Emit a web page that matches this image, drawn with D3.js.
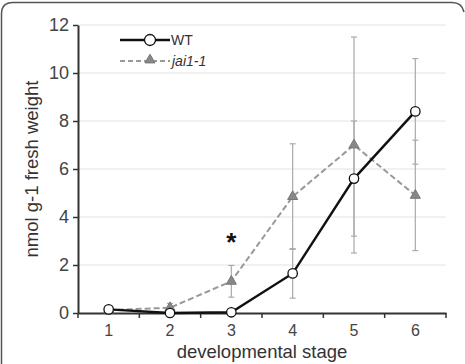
<!DOCTYPE html>
<html>
<head>
<meta charset="utf-8">
<script src="https://cdn.jsdelivr.net/npm/d3@7"></script>
<style>
    body { margin: 0; background: #fff; }
    svg { display: block; font-family: "Liberation Sans", Arial, sans-serif; }
</style>
</head>
<body>
<div id="chart"></div>
<script>
const stages = ["1", "2", "3", "4", "5", "6"];
const wtMean = [0.15, 0.0, 0.03, 1.65, 5.6, 8.4];
const wtErr = [0.05, 0.02, 0.02, 1.03, 2.4, 2.2];
const jaiMean = [0.12, 0.22, 1.32, 4.85, 7.0, 4.9];
const jaiErr = [0.05, 0.18, 0.66, 2.2, 4.5, 2.3];
const yTicks = [0, 2, 4, 6, 8, 10, 12];

const width = 465, height = 364;
const margin = {top: 25, right: 19, bottom: 51, left: 78};
const w = width - margin.left - margin.right;
const h = height - margin.top - margin.bottom;

const svg = d3.select("#chart").append("svg")
    .attr("width", width)
    .attr("height", height);

// frame
svg.append("path")
    .attr("d", "M1.5,364 L1.5,14 Q1.5,2.5 13,2.5 L452,2.5 Q462,2.5 464,12")
    .attr("fill", "none")
    .attr("stroke", "#555")
    .attr("stroke-width", 1.5);

const g = svg.append("g")
    .attr("transform", "translate(" + margin.left + "," + margin.top + ")");

const x = d3.scaleBand().domain(stages).range([0, w]);
const y = d3.scaleLinear().domain([0, 12]).range([h, 0]);
const cx = d => x(d) + x.bandwidth() / 2;

// grid
g.append("g").selectAll("line")
    .data(yTicks.filter(t => t > 0))
    .enter().append("line")
    .attr("x1", 0).attr("x2", w)
    .attr("y1", d => y(d)).attr("y2", d => y(d))
    .attr("stroke", "#e4e4e4")
    .attr("stroke-width", 1.2);

// axes
const yAxis = g.append("g")
    .call(d3.axisLeft(y).tickValues(yTicks).tickSize(5).tickPadding(4).tickSizeOuter(0));
const xAxis = g.append("g")
    .attr("transform", "translate(0," + h + ")")
    .call(d3.axisBottom(x).tickSize(0).tickPadding(12));

// x tick marks at band edges
xAxis.selectAll(".edge")
    .data(d3.range(stages.length + 1))
    .enter().append("line")
    .attr("class", "edge")
    .attr("x1", i => i * x.step()).attr("x2", i => i * x.step())
    .attr("y1", 0).attr("y2", 5)
    .attr("stroke", "#333")
    .attr("stroke-width", 1.5);

[yAxis, xAxis].forEach(a => {
    a.select(".domain").attr("stroke", "#333").attr("stroke-width", 2);
    a.selectAll(".tick line").attr("stroke", "#333").attr("stroke-width", 1.5);
});
yAxis.selectAll("text").attr("font-size", 18).attr("fill", "#444")
    .attr("font-family", "Liberation Sans, Arial, sans-serif");
xAxis.selectAll("text").attr("font-size", 16).attr("fill", "#444")
    .attr("font-family", "Liberation Sans, Arial, sans-serif");

// error bars
function errorBars(mean, err) {
    const eg = g.append("g");
    mean.forEach((m, i) => {
        const xx = cx(stages[i]);
        const lo = y(Math.max(0, m - err[i])), hi = y(m + err[i]);
        eg.append("line").attr("x1", xx).attr("x2", xx).attr("y1", lo).attr("y2", hi)
            .attr("stroke", "#aaa").attr("stroke-width", 1.2);
        [lo, hi].forEach(v => {
            eg.append("line").attr("x1", xx - 3).attr("x2", xx + 3).attr("y1", v).attr("y2", v)
                .attr("stroke", "#aaa").attr("stroke-width", 1.2);
        });
    });
}
errorBars(wtMean, wtErr);
errorBars(jaiMean, jaiErr);

const line = d3.line()
    .x((d, i) => cx(stages[i]))
    .y(d => y(d));

const triangle = d3.symbol().type(d3.symbolTriangle).size(44);

// jai1-1
g.append("path")
    .attr("d", line(jaiMean))
    .attr("fill", "none")
    .attr("stroke", "#999")
    .attr("stroke-width", 2)
    .attr("stroke-dasharray", "6,3");

// WT
g.append("path")
    .attr("d", line(wtMean))
    .attr("fill", "none")
    .attr("stroke", "#111")
    .attr("stroke-width", 2.4);

g.append("g").selectAll("path")
    .data(jaiMean)
    .enter().append("path")
    .attr("d", triangle)
    .attr("transform", (d, i) => "translate(" + cx(stages[i]) + "," + y(d) + ")")
    .attr("fill", "#888")
    .attr("stroke", "#777")
    .attr("stroke-width", 1);

g.append("g").selectAll("circle")
    .data(wtMean)
    .enter().append("circle")
    .attr("cx", (d, i) => cx(stages[i]))
    .attr("cy", d => y(d))
    .attr("r", 4.7)
    .attr("fill", "#fff")
    .attr("stroke", "#111")
    .attr("stroke-width", 1.3);

// asterisk above stage 3
g.append("text")
    .attr("x", cx("3"))
    .attr("y", y(jaiMean[2] + jaiErr[2]) + 2 - 16)
    .attr("text-anchor", "middle")
    .attr("font-size", 26)
    .attr("font-weight", "bold")
    .attr("fill", "#111")
    .text("*");

// legend
const leg = svg.append("g");
leg.append("line").attr("x1", 120).attr("x2", 170).attr("y1", 40).attr("y2", 40)
    .attr("stroke", "#111").attr("stroke-width", 2.4);
leg.append("circle").attr("cx", 150).attr("cy", 40).attr("r", 5.5)
    .attr("fill", "#fff").attr("stroke", "#111").attr("stroke-width", 1.3);
leg.append("text").attr("x", 171).attr("y", 45).attr("font-size", 14).attr("fill", "#333").text("WT");
leg.append("line").attr("x1", 120).attr("x2", 170).attr("y1", 61).attr("y2", 61)
    .attr("stroke", "#999").attr("stroke-width", 2).attr("stroke-dasharray", "5,3");
leg.append("path").attr("d", triangle).attr("transform", "translate(150,60)")
    .attr("fill", "#888").attr("stroke", "#777");
leg.append("text").attr("x", 172).attr("y", 66).attr("font-size", 14).attr("font-style", "italic")
    .attr("fill", "#333").text("jai1-1");

// axis titles
svg.append("text")
    .attr("transform", "translate(38," + (margin.top + h / 2) + ") rotate(-90)")
    .attr("text-anchor", "middle")
    .attr("font-size", 18.5)
    .attr("fill", "#333")
    .text("nmol g-1 fresh weight");

svg.append("text")
    .attr("x", margin.left + w / 2)
    .attr("y", 358)
    .attr("text-anchor", "middle")
    .attr("font-size", 18.5)
    .attr("fill", "#333")
    .text("developmental stage");
</script>
</body>
</html>
